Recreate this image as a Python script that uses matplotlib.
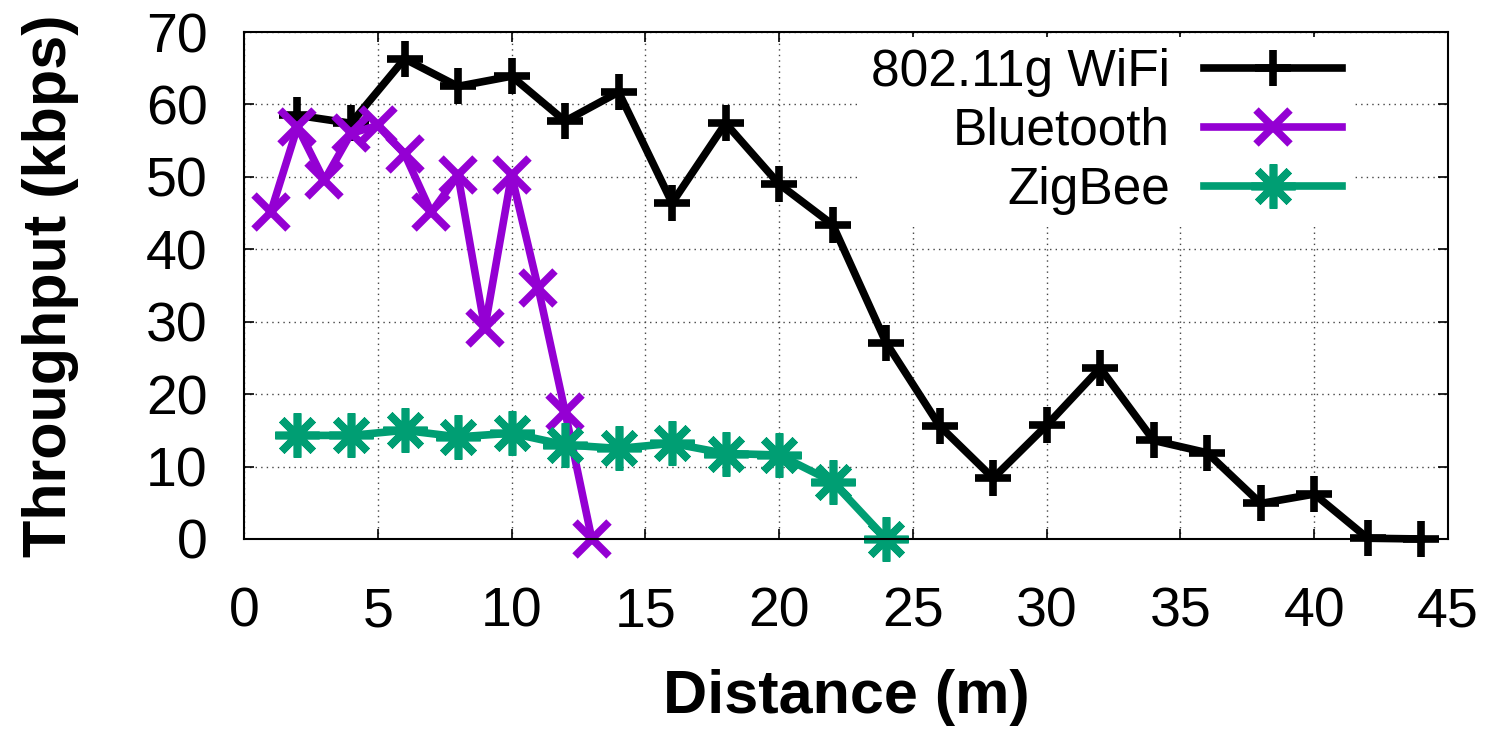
import matplotlib
matplotlib.use('Agg')
import matplotlib.pyplot as plt

plt.rcParams['font.family'] = ['Liberation Sans', 'DejaVu Sans']

# throughput vs distance
wifi_x = [2, 4, 6, 8, 10, 12, 14, 16, 18, 20, 22, 24, 26, 28, 30, 32, 34, 36, 38, 40, 42, 44]
wifi_y = [58.5, 57.4, 66.3, 62.5, 63.9, 57.7, 61.7, 46.4, 57.4, 49.0, 43.4, 27.1,
          15.6, 8.4, 15.7, 23.6, 13.6, 11.9, 4.9, 6.2, 0.1, 0.0]

bt_x = [1, 2, 3, 4, 5, 6, 7, 8, 9, 10, 11, 12, 13]
bt_y = [45.1, 56.9, 49.5, 56.0, 57.1, 53.2, 45.1, 50.2, 29.1, 50.2, 34.6, 17.6, 0.0]

zb_x = [2, 4, 6, 8, 10, 12, 14, 16, 18, 20, 22, 24]
zb_y = [14.3, 14.3, 15.0, 14.1, 14.6, 13.0, 12.5, 13.2, 11.8, 11.6, 7.9, 0.0]

fig = plt.figure(figsize=(14.93, 7.36), dpi=100)
ax = fig.add_axes([0.1634, 0.2677, 0.8065, 0.6888])

lw = 5.5
ax.plot(wifi_x, wifi_y, color='black', lw=lw, marker='+', ms=26, mew=5.5,
        label='802.11g WiFi', clip_on=False)
ax.plot(bt_x, bt_y, color='#9400D3', lw=lw, marker='x', ms=25, mew=5.5,
        label='Bluetooth', clip_on=False)
ax.plot(zb_x, zb_y, color='#009E73', lw=lw, marker=(8, 2, 0), ms=32, mew=5.5,
        label='ZigBee', clip_on=False)

ax.set_xlim(0, 45)
ax.set_ylim(0, 70)
ax.set_xticks(range(0, 46, 5))
ax.set_yticks(range(0, 71, 10))
ax.grid(True, color='#444444', linestyle=(0, (1, 3)), linewidth=1)
ax.set_axisbelow(True)
ax.tick_params(direction='in', length=7, width=1.2, top=True, right=True,
               labelsize=40)
ax.tick_params(axis='x', pad=34)
ax.tick_params(axis='y', pad=26)
for s in ax.spines.values():
    s.set_linewidth(1.5)

ax.set_xlabel('Distance (m)', fontsize=44, fontweight='bold', labelpad=22)
ax.set_ylabel('Throughput (kbps)', fontsize=44, fontweight='bold', labelpad=48)

leg = ax.legend(loc='upper right', bbox_to_anchor=(0.942, 1.04), fontsize=37,
                markerfirst=False, handlelength=2.7, handletextpad=0.65,
                labelspacing=0.2, borderpad=0.2, frameon=True, fancybox=False)
leg.get_frame().set_facecolor('white')
leg.get_frame().set_edgecolor('none')
leg.get_frame().set_alpha(1)
for t in leg.get_texts():
    t.set_ha('right')

fig.savefig('out.png', dpi=100)
